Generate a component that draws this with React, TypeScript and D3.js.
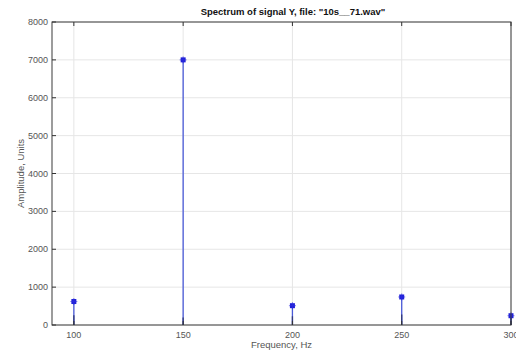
import React from "react";
import * as d3 from "d3";

const freqs = [100, 150, 200, 250, 300];
const amps = [620, 7000, 510, 740, 245];
const baseAmps = [260, 200, 230, 280, 200];
const xTicks = [100, 150, 200, 250, 300];
const yTicks = [0, 1000, 2000, 3000, 4000, 5000, 6000, 7000, 8000];

const W = 516, H = 353;
const M = { left: 52, right: 5, top: 22, bottom: 28 };

export default function App() {
  const x = d3.scaleLinear().domain([90, 300]).range([M.left, W - M.right]);
  const y = d3.scaleLinear().domain([0, 8000]).range([H - M.bottom, M.top]);
  const font = "'Liberation Sans', Arial, sans-serif";
  const x0 = x.range()[0], x1 = x.range()[1];
  const y0 = y.range()[0], y1 = y.range()[1];
  return (
    <svg width={W} height={H} style={{ position: "absolute", left: 0, top: 0, background: "#fff" }} fontFamily={font}>
      <rect x={0} y={0} width={W} height={H} fill="#fff" />
      {xTicks.map((t) => (
        <line key={"gx" + t} x1={x(t)} x2={x(t)} y1={y0} y2={y1} stroke="#e6e6e6" strokeWidth={1} />
      ))}
      {yTicks.map((t) => (
        <line key={"gy" + t} x1={x0} x2={x1} y1={y(t)} y2={y(t)} stroke="#e6e6e6" strokeWidth={1} />
      ))}
      {freqs.map((f, i) => (
        <g key={"s" + f}>
          <line x1={x(f)} x2={x(f)} y1={y(0)} y2={y(amps[i])} stroke="#4a5ad8" strokeWidth={1.3} />
          <line x1={x(f)} x2={x(f)} y1={y(0)} y2={y(baseAmps[i])} stroke="#333a78" strokeWidth={1.3} />
          <rect x={x(f) - 2.5} y={y(amps[i]) - 2.5} width={5} height={5} fill="#2020d8" />
          <path
            d={`M${x(f) - 3.5},${y(amps[i])}H${x(f) + 3.5}M${x(f)},${y(amps[i]) - 3.5}V${y(amps[i]) + 3.5}`}
            stroke="#3030e0" strokeWidth={1} opacity={0.6}
          />
        </g>
      ))}
      <rect x={x0} y={y1} width={x1 - x0} height={y0 - y1} fill="none" stroke="#3a3a3a" strokeWidth={1} />
      {xTicks.map((t) => (
        <g key={"tx" + t}>
          <line x1={x(t)} x2={x(t)} y1={y0} y2={y0 - 4} stroke="#333" />
          <line x1={x(t)} x2={x(t)} y1={y1} y2={y1 + 4} stroke="#333" />
          <text x={x(t)} y={y0 + 13} textAnchor="middle" fontSize={9} fill="#555">{t}</text>
        </g>
      ))}
      {yTicks.map((t) => (
        <g key={"ty" + t}>
          <line x1={x0} x2={x0 + 4} y1={y(t)} y2={y(t)} stroke="#333" />
          <text x={x0 - 4} y={y(t) + 3} textAnchor="end" fontSize={9} fill="#555">{t}</text>
        </g>
      ))}
      <text x={293} y={15} textAnchor="middle" fontSize={9.5} fontWeight="bold" fill="#111">
        Spectrum of signal Y, file: "10s__71.wav"
      </text>
      <text x={(x0 + x1) / 2} y={348} textAnchor="middle" fontSize={9.5} fill="#555">Frequency, Hz</text>
      <text transform={`translate(24,${(y0 + y1) / 2}) rotate(-90)`} textAnchor="middle" fontSize={9.5} fill="#555">
        Amplitude, Units
      </text>
    </svg>
  );
}
